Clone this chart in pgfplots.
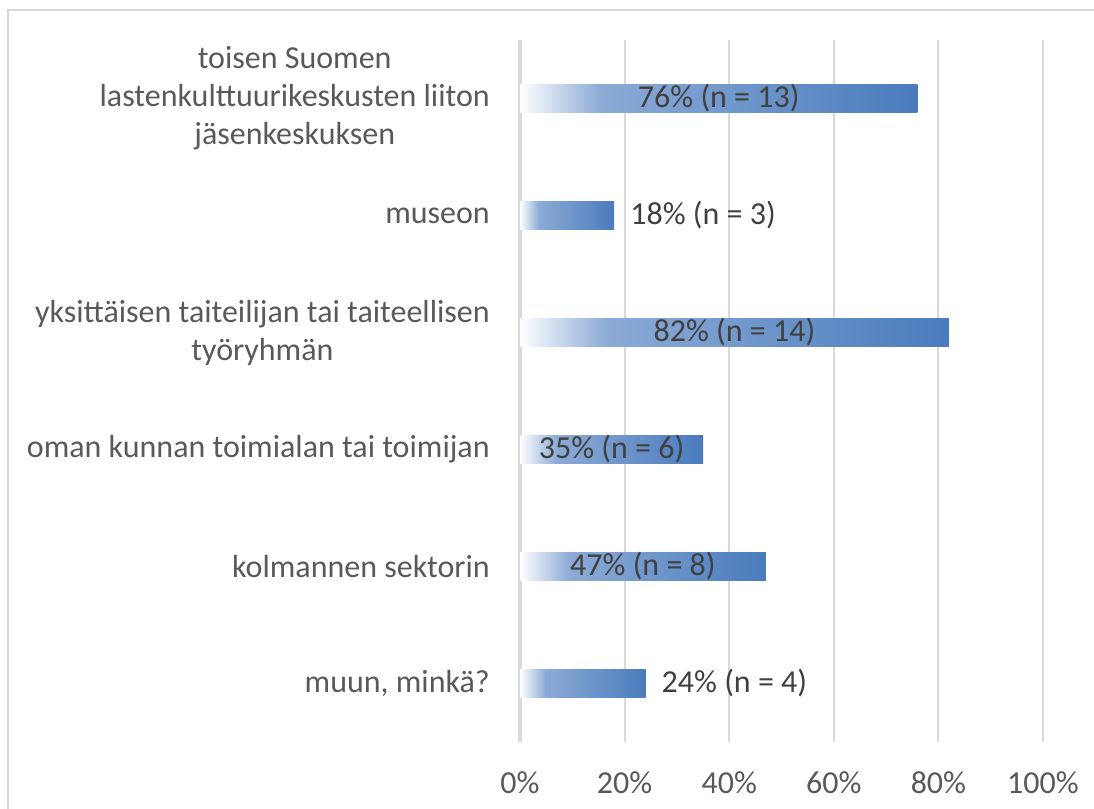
\documentclass[border=0pt]{standalone}
\usepackage{pgfplots}
\pgfplotsset{compat=1.18}
\usepackage{pgfplotstable}
\usepackage{fontspec}
\setmainfont{Carlito}
\definecolor{gridc}{HTML}{D9D9D9}
\definecolor{labc}{HTML}{595959}
\definecolor{datc}{HTML}{404040}
\definecolor{bmid}{HTML}{8CABD6}
\definecolor{bend}{HTML}{4A7BBD}
\pgfdeclarehorizontalshading{barshade}{100bp}{color(0bp)=(white); color(25bp)=(white); color(35bp)=(bmid); color(75bp)=(bend); color(100bp)=(bend)}

\pgfplotstableread{
y v n inside
0 76 13 1
1 18 3 0
2 82 14 1
3 35 6 1
4 47 8 1
5 24 4 0
}\datatable

\begin{document}
\begin{tikzpicture}[x=1bp,y=1bp]
\useasboundingbox (0,0) rectangle (1094,809);
\draw[gridc, line width=1.5bp] (8,0) -- (8,799) -- (1094,799);
\begin{axis}[
  at={(520bp,67bp)}, anchor=south west,
  scale only axis, width=523bp, height=702bp,
  xmin=0, xmax=100, ymin=-0.5, ymax=5.5,
  y dir=reverse,
  axis x line*=bottom, axis y line*=left,
  axis line style={draw=none},
  major tick length=0pt,
  xtick={0,20,40,60,80,100},
  xticklabel={\pgfmathprintnumber{\tick}\%},
  xticklabel style={anchor=base, yshift=-51bp, text=labc, font=\fontsize{32bp}{38bp}\selectfont},
  /pgf/number format/assume math mode=true,
  xmajorgrids,
  grid style={gridc, line width=2bp},
  extra x ticks={0},
  extra x tick labels={},
  extra x tick style={grid style={gridc, line width=4bp}},
  ytick={0,1,2,3,4,5},
  yticklabels={{toisen Suomen\\lastenkulttuurikeskusten liiton\\jäsenkeskuksen},
    {museon},
    {yksittäisen taiteilijan tai taiteellisen\\työryhmän},
    {oman kunnan toimialan tai toimijan},
    {kolmannen sektorin},
    {muun, minkä?}},
  yticklabel style={align=center, anchor=east, inner sep=0pt, xshift=-30bp, text=labc, font=\fontsize{32bp}{38bp}\selectfont},
  clip=false,
]
\pgfplotsinvokeforeach{0,...,5}{
\addplot[xbar, bar width=28bp, bar shift=0pt, draw=none, shading=barshade,
  restrict expr to domain={\thisrow{y}}{#1:#1}] table[x=v, y=y] {\datatable};
}
\addplot[draw=none, no marks,
  restrict expr to domain={\thisrow{inside}}{1:1},
  visualization depends on={\thisrow{v} \as \vval},
  visualization depends on={\thisrow{n} \as \nval},
  nodes near coords={\pgfmathprintnumber{\vval}\% (n = \pgfmathprintnumber{\nval})},
  nodes near coords style={anchor=center, inner sep=0pt, text=datc, font=\fontsize{32bp}{38bp}\selectfont, /pgf/number format/assume math mode=true},
] table[x expr=\thisrow{v}/2, y=y] {\datatable};
\addplot[draw=none, no marks,
  restrict expr to domain={\thisrow{inside}}{0:0},
  visualization depends on={\thisrow{v} \as \vval},
  visualization depends on={\thisrow{n} \as \nval},
  nodes near coords={\pgfmathprintnumber{\vval}\% (n = \pgfmathprintnumber{\nval})},
  nodes near coords style={anchor=west, inner sep=0pt, xshift=16bp, text=datc, font=\fontsize{32bp}{38bp}\selectfont, /pgf/number format/assume math mode=true},
] table[x=v, y=y] {\datatable};
\end{axis}
\end{tikzpicture}
\end{document}
